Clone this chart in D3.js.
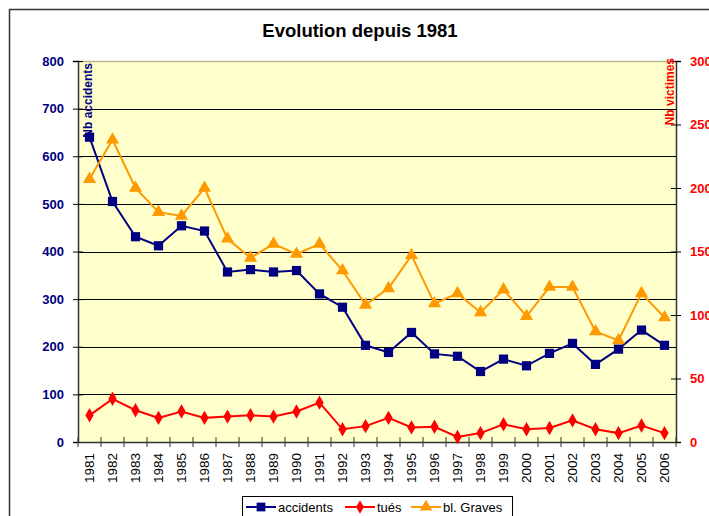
<!DOCTYPE html>
<html>
<head>
    <title>Evolution depuis 1981</title>
    <script src="https://cdn.jsdelivr.net/npm/d3@7"></script>
    <style>
        body { margin: 0; background: #fff; }
        text { font-family: "Liberation Sans", Arial, sans-serif; }
    </style>
</head>
<body>
    <svg width="709" height="516" id="mainsvg"></svg>
    <script>
        const years = ['1981','1982','1983','1984','1985','1986','1987','1988','1989','1990','1991','1992','1993',
            '1994','1995','1996','1997','1998','1999','2000','2001','2002','2003','2004','2005','2006'];
        // left axis
        const accidents = [640, 505, 431, 412, 454, 443, 357, 362, 357, 360, 311, 283, 203,
            188, 230, 185, 180, 148, 174, 160, 186, 207, 163, 195, 235, 203];
        // right axis
        const tues = [21, 34, 25, 19, 24, 19, 20, 21, 20, 24, 31, 10, 12.5,
            19, 11.5, 12, 4, 7, 14, 10, 11, 17, 10, 7, 13, 7];
        const graves = [207, 238, 200, 181, 178, 200, 160, 145, 156, 148, 156, 135, 108,
            121, 147, 109, 117, 102, 120, 99, 122, 122, 87, 80, 117, 98];
        const leftTicks = [0, 100, 200, 300, 400, 500, 600, 700, 800];
        const rightTicks = [0, 50, 100, 150, 200, 250, 300];

        const svg = d3.select('svg');
        const plot = {left: 78, right: 676, top: 61, bottom: 442};

        // outer frame
        svg.append('rect').attr('x', 9.5).attr('y', 9.5).attr('width', 720).attr('height', 520)
            .attr('fill', 'none').attr('stroke', '#333').attr('stroke-width', 1.5);

        svg.append('text').attr('x', 360).attr('y', 37).attr('text-anchor', 'middle')
            .attr('font-size', 18.5).attr('font-weight', 'bold').text('Evolution depuis 1981');

        const x = d3.scaleBand().domain(years).range([plot.left, plot.right]);
        const yL = d3.scaleLinear().domain([0, 800]).range([plot.bottom, plot.top]);
        const yR = d3.scaleLinear().domain([0, 300]).range([plot.bottom, plot.top]);

        svg.append('rect').attr('x', plot.left).attr('y', plot.top)
            .attr('width', plot.right - plot.left).attr('height', plot.bottom - plot.top)
            .attr('fill', '#ffffcc');
        svg.append('line').attr('x1', plot.left).attr('x2', plot.right)
            .attr('y1', plot.top + 0.5).attr('y2', plot.top + 0.5)
            .attr('stroke', '#b8b890').attr('stroke-width', 1.5);

        // gridlines
        svg.append('g').selectAll('line').data(leftTicks.slice(1, -1)).join('line')
            .attr('x1', plot.left).attr('x2', plot.right)
            .attr('y1', d => Math.round(yL(d)) + 0.5).attr('y2', d => Math.round(yL(d)) + 0.5)
            .attr('stroke', '#000').attr('stroke-width', 1);

        // axes
        const axL = svg.append('g').attr('transform', `translate(${plot.left},0)`)
            .call(d3.axisLeft(yL).tickValues(leftTicks).tickSize(5).tickPadding(6));
        axL.selectAll('.tick line').attr('x2', -5).attr('x1', 5);
        axL.selectAll('text').attr('fill', '#000080').attr('font-size', 13).attr('font-weight', 'bold')
            .attr('font-family', '"Liberation Sans", Arial, sans-serif').attr('dx', -3);

        const axR = svg.append('g').attr('transform', `translate(${plot.right},0)`)
            .call(d3.axisRight(yR).tickValues(rightTicks).tickSize(5).tickPadding(6));
        axR.selectAll('.tick line').attr('x1', -5).attr('x2', 5);
        axR.selectAll('text').attr('fill', '#ff0000').attr('font-size', 13).attr('font-weight', 'bold')
            .attr('font-family', '"Liberation Sans", Arial, sans-serif').attr('dx', 3);

        const axB = svg.append('g').attr('transform', `translate(0,${plot.bottom})`)
            .call(d3.axisBottom(x).tickSize(0).tickPadding(0));
        axB.selectAll('text').attr('transform', 'rotate(-90)')
            .attr('text-anchor', 'end').attr('x', -11).attr('y', 0).attr('dy', '0.35em')
            .attr('font-size', 13.5).attr('fill', '#000')
            .attr('font-family', '"Liberation Sans", Arial, sans-serif');
        svg.append('g').selectAll('line').data(years.concat(['end'])).join('line')
            .attr('x1', (d, i) => plot.left + i * x.bandwidth()).attr('x2', (d, i) => plot.left + i * x.bandwidth())
            .attr('y1', plot.bottom - 5).attr('y2', plot.bottom + 5)
            .attr('stroke', '#333');
        svg.selectAll('.domain').attr('stroke', '#333').attr('stroke-width', 1.5);

        // axis titles
        svg.append('text').attr('transform', `translate(${plot.left + 14},${plot.top + 2}) rotate(-90)`)
            .attr('text-anchor', 'end').attr('font-size', 12).attr('font-weight', 'bold')
            .attr('fill', '#000080').text('Nb accidents');
        svg.append('text').attr('transform', `translate(${plot.right - 2},${plot.top - 3}) rotate(-90)`)
            .attr('text-anchor', 'end').attr('font-size', 12).attr('font-weight', 'bold')
            .attr('fill', '#ff0000').text('Nb victimes');

        const cx = d => x(d) + x.bandwidth() / 2;
        const series = [
            {name: 'accidents', values: accidents, y: yL, color: '#000080', symbol: d3.symbolSquare, size: 85},
            {name: 'tués', values: tues, y: yR, color: '#ff0000', symbol: d3.symbolDiamond, size: 60},
            {name: 'bl. Graves', values: graves, y: yR, color: '#ff9900', symbol: d3.symbolTriangle, size: 75}
        ];

        series.forEach(s => {
            const line = d3.line().x((d, i) => cx(years[i])).y(d => s.y(d));
            svg.append('path').datum(s.values).attr('d', line)
                .attr('fill', 'none').attr('stroke', s.color).attr('stroke-width', 2);
            svg.append('g').selectAll('path').data(s.values).join('path')
                .attr('d', d3.symbol(s.symbol, s.size))
                .attr('transform', (d, i) => `translate(${cx(years[i])},${s.y(d)})`)
                .attr('fill', s.color);
        });

        // legend
        const lg = svg.append('g');
        lg.append('rect').attr('x', 242.5).attr('y', 496.5).attr('width', 270).attr('height', 30)
            .attr('fill', '#fff').attr('stroke', '#000');
        const lx = [246, 345, 411];
        series.forEach((s, i) => {
            lg.append('line').attr('x1', lx[i]).attr('x2', lx[i] + 30).attr('y1', 507).attr('y2', 507)
                .attr('stroke', s.color).attr('stroke-width', 2);
            lg.append('path').attr('d', d3.symbol(s.symbol, s.size * 0.9))
                .attr('transform', `translate(${lx[i] + 15},507)`).attr('fill', s.color);
            lg.append('text').attr('x', lx[i] + 32).attr('y', 512).attr('font-size', 13).text(s.name);
        });
    </script>
</body>
</html>
